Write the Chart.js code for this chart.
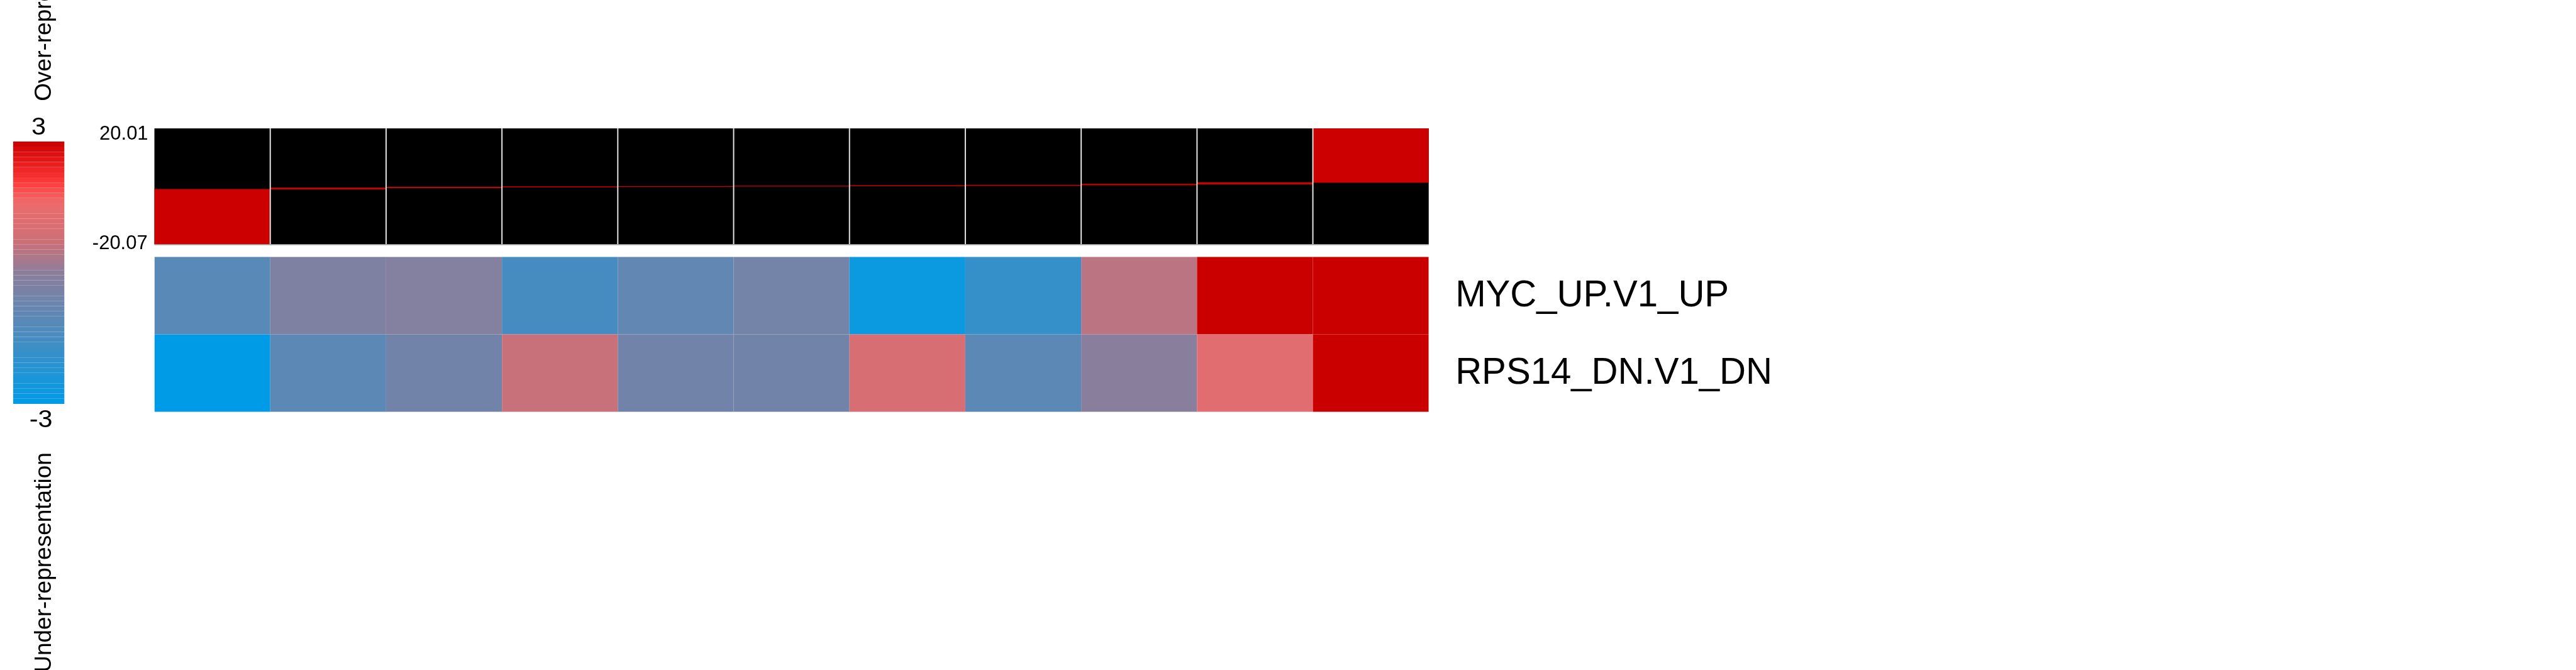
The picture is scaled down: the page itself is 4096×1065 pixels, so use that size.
<!DOCTYPE html>
<html><head><meta charset="utf-8">
<script src="https://cdn.jsdelivr.net/npm/chart.js@4.4.1/dist/chart.umd.min.js"></script>
<style>
html,body{margin:0;padding:0;background:#fff;}
#wrap{position:relative;width:4096px;height:1065px;overflow:hidden;background:#fff;}
canvas{position:absolute;left:0;top:0;}
</style></head><body>
<div id="wrap">
<canvas id="cbar" width="4096" height="1065"></canvas>
<canvas id="rank" width="4096" height="1065"></canvas>
<canvas id="heat" width="4096" height="1065"></canvas>
</div>
<script>
// ---------------- data ----------------
const columns = ['1','2','3','4','5','6','7','8','9','10','11'];
const rowNames = ['MYC_UP.V1_UP', 'RPS14_DN.V1_DN'];
const mycValues = [-1.11, -0.28, -0.17, -1.48, -0.90, -0.51, -2.76, -1.86, 0.50, 3.00, 3.00];
const rpsValues = [-3.00, -1.05, -0.56, 0.67, -0.56, -0.56, 0.99, -1.05, -0.06, 1.26, 3.00];
const rankLow  = [-20.07, -0.99, -0.55, -0.27, -0.10, 0.00, 0.10, 0.27, 0.45, 0.75, 1.30];
const rankHigh = [-0.99, -0.55, -0.27, -0.10, 0.00, 0.10, 0.27, 0.45, 0.75, 1.30, 20.01];
const rankMin = -20.07, rankMax = 20.01;
const rankTickLabels = ['20.01', '-20.07'];
const colorMin = -3, colorMax = 3;
const colorTickLabels = ['3', '-3'];
const legendTitles = ['Over-representation', 'Under-representation'];

// ---------------- style / layout ----------------
const W = 4096, H = 1065, S = 0.986;
const L = {
  heatLeft: 249*S, heatRight: 2304*S,
  rankTop: 207*S, rankBottom: 394*S,
  heatTop: 414*S, heatBottom: 664*S,
  cbLeft: 21*S, cbRight: 104*S, cbTop: 228*S, cbBottom: 651*S
};
const FONT = '"Liberation Sans", Arial, Helvetica, sans-serif';
const colorStops = [
  [-3.0, [0,155,230]],
  [ 0.0, [140,126,155]],
  [ 0.7, [204,112,120]],
  [ 1.6, [238,107,107]],
  [ 2.0, [255,64,64]],
  [ 2.5, [232,28,28]],
  [ 3.0, [202,0,0]]
];
function colormap(v){
  v = Math.max(colorMin, Math.min(colorMax, v));
  for (let i=1;i<colorStops.length;i++){
    const [v0,c0] = colorStops[i-1], [v1,c1] = colorStops[i];
    if (v <= v1){
      const t = (v - v0)/(v1 - v0);
      const c = c0.map((a,k)=>Math.round(a + (c1[k]-a)*t));
      return `rgb(${c[0]},${c[1]},${c[2]})`;
    }
  }
  const c = colorStops[colorStops.length-1][1];
  return `rgb(${c[0]},${c[1]},${c[2]})`;
}
// legend bands (colour key)
const legendSteps = 51;
const bandLabels = [], bandColors = [];
for (let i=0;i<legendSteps;i++){
  const v = colorMax - (i+0.5)*(colorMax-colorMin)/legendSteps;
  bandLabels.push(String(i));
  bandColors.push(colormap(v));
}

const common = {
  responsive:false, animation:false, devicePixelRatio:1,
  plugins:{legend:{display:false}, tooltip:{enabled:false}, title:{display:false}}
};
function pad(l,r,t,b){ return {padding:{left:l, right:W-r, top:t, bottom:H-b}}; }

// ---------------- colour key ----------------
const cbarChart = new Chart(document.getElementById('cbar'), {
  type:'bar',
  data:{labels:bandLabels, datasets:[{data:bandLabels.map(()=>1), backgroundColor:bandColors,
    barPercentage:1, categoryPercentage:1, borderWidth:0, inflateAmount:0}]},
  options:Object.assign({}, common, {
    indexAxis:'y',
    layout:pad(L.cbLeft, L.cbRight, L.cbTop, L.cbBottom),
    scales:{x:{display:false, min:0, max:1}, y:{display:false}}
  })
});

// ---------------- rank panel ----------------
const rankPlugin = {
  id:'rankDeco',
  beforeDatasetsDraw(chart){
    const {ctx, chartArea:a} = chart;
    ctx.save(); ctx.fillStyle='#000';
    ctx.fillRect(a.left, a.top, a.right-a.left, a.bottom-a.top);
    ctx.restore();
  },
  afterDatasetsDraw(chart){
    const {ctx, chartArea:a} = chart;
    const xs = chart.scales.x;
    ctx.save();
    ctx.strokeStyle='#e4e4e4'; ctx.lineWidth=2;
    for (let i=1;i<columns.length;i++){
      const x = (xs.getPixelForValue(i-1)+xs.getPixelForValue(i))/2;
      ctx.beginPath(); ctx.moveTo(x, a.top); ctx.lineTo(x, a.bottom); ctx.stroke();
    }
    ctx.strokeStyle='#a8a8a8'; ctx.lineWidth=1.5;
    ctx.beginPath(); ctx.moveTo(a.left, a.bottom+0.5); ctx.lineTo(a.right, a.bottom+0.5); ctx.stroke();
    ctx.restore();
  }
};
const rankChart = new Chart(document.getElementById('rank'), {
  type:'bar',
  data:{labels:columns, datasets:[{data:rankLow.map((lo,i)=>[lo, rankHigh[i]]),
    backgroundColor:'#cc0000', barPercentage:1, categoryPercentage:1, borderWidth:0, borderSkipped:false}]},
  options:Object.assign({}, common, {
    layout:pad(L.heatLeft, L.heatRight, L.rankTop, L.rankBottom),
    scales:{x:{display:false}, y:{display:false, min:rankMin, max:rankMax}}
  }),
  plugins:[rankPlugin]
});

// ---------------- heatmap + all text ----------------
function drawText(ctx, text, x, y, o){
  ctx.save();
  ctx.translate(x, y);
  if (o.rot) ctx.rotate(o.rot);
  ctx.scale(o.sx || 1, 1);
  ctx.font = o.font;
  ctx.textAlign = o.align || 'left';
  ctx.textBaseline = 'alphabetic';
  ctx.fillStyle = '#000';
  ctx.fillText(text, 0, 0);
  ctx.restore();
}
const textPlugin = {
  id:'texts',
  afterDraw(chart){
    const ctx = chart.ctx;
    const ys = chart.scales.y;
    const ca = cbarChart.chartArea, ra = rankChart.chartArea;
    const rys = rankChart.scales.y;
    const big = `39.4px ${FONT}`;
    const title = `37px ${FONT}`;
    // colour key limits
    drawText(ctx, colorTickLabels[0], (ca.left+ca.right)/2, ca.top - 11.1, {font:big, align:'center', sx:1.05});
    drawText(ctx, colorTickLabels[1], (ca.left+ca.right)/2 + 3.5, ca.bottom + 37.5, {font:big, align:'center', sx:1.05});
    // legend titles (rotated)
    drawText(ctx, legendTitles[0], 81.3, ca.top - 64.1, {font:title, align:'left', rot:-Math.PI/2});
    drawText(ctx, legendTitles[1], 81.3, ca.bottom + 77.3, {font:title, align:'right', rot:-Math.PI/2});
    // rank axis labels
    const small = `31px ${FONT}`;
    drawText(ctx, rankTickLabels[0], ra.left - 9.9, rys.getPixelForValue(rankMax) + 17.5, {font:small, align:'right'});
    drawText(ctx, rankTickLabels[1], ra.left - 10.8, rys.getPixelForValue(rankMin) + 7.5, {font:small, align:'right'});
    // row labels
    const rowFont = `59px ${FONT}`;
    const xr = chart.chartArea.right + 42.4;
    drawText(ctx, rowNames[0], xr, ys.getPixelForValue(1.5) + 17, {font:rowFont, align:'left', sx:0.985});
    drawText(ctx, rowNames[1], xr, ys.getPixelForValue(0.5) + 17, {font:rowFont, align:'left', sx:0.985});
  }
};
const heatChart = new Chart(document.getElementById('heat'), {
  type:'bar',
  data:{labels:columns, datasets:[
    {label:rowNames[1], data:columns.map(()=>1), backgroundColor:rpsValues.map(colormap),
     barPercentage:1, categoryPercentage:1, borderWidth:0, inflateAmount:0},
    {label:rowNames[0], data:columns.map(()=>1), backgroundColor:mycValues.map(colormap),
     barPercentage:1, categoryPercentage:1, borderWidth:0, inflateAmount:0}
  ]},
  options:Object.assign({}, common, {
    layout:pad(L.heatLeft, L.heatRight, L.heatTop, L.heatBottom),
    scales:{x:{display:false, stacked:true}, y:{display:false, stacked:true, min:0, max:rowNames.length}}
  }),
  plugins:[textPlugin]
});
</script>
</body></html>
